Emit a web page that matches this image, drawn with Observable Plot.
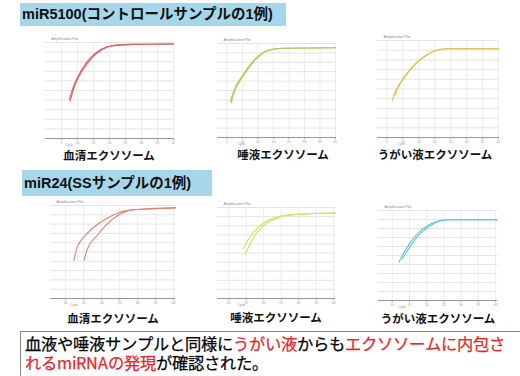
<!DOCTYPE html>
<html><head><meta charset="utf-8">
<script src="https://cdn.jsdelivr.net/npm/d3@7"></script>
<script src="https://cdn.jsdelivr.net/npm/@observablehq/plot@0.6"></script>
<style>
@font-face{font-family:"NoteJP";src:local("Noto Sans CJK JP Regular"),local("NotoSansCJKjp-Regular"),local("Noto Sans CJK JP");ascent-override:90%;descent-override:12%;line-gap-override:0%;}
html,body{margin:0;padding:0;background:#fff;}
#root{position:relative;width:520px;height:376px;overflow:hidden;background:#fff;font-family:"Liberation Sans","Noto Sans CJK JP",sans-serif;}
.ttl{position:absolute;background:#a6d6e9;font-weight:bold;font-size:14.5px;color:#111;line-height:23px;padding-left:2px;white-space:nowrap;}
.cap{position:absolute;font-family:"Noto Sans CJK JP",sans-serif;font-weight:bold;font-size:11.5px;line-height:12px;color:#111;transform:translate(-50%,-50%);white-space:nowrap;}
.chart{position:absolute;}
#note{position:absolute;left:20px;top:331px;width:520px;height:60px;border:1px solid #888;box-sizing:border-box;padding:2px 0 0 4px;font-family:"NoteJP","Noto Sans CJK JP",sans-serif;font-size:16.3px;line-height:19px;color:#000;white-space:nowrap;-webkit-text-stroke:0.25px currentColor;}
#note .ln{display:block;height:19px;}
#note .r{color:#e8262a;}
</style></head>
<body><div id="root"></div>
<script>
// ---- text ----
const sectionTitles = ["miR5100(コントロールサンプルの1例)", "miR24(SSサンプルの1例)"];
const captions = ["血清エクソソーム", "唾液エクソソーム", "うがい液エクソソーム", "血清エクソソーム", "唾液エクソソーム", "うがい液エクソソーム"];
const plotTitle = "Amplification Plot";
const axisName = "Cycle";
const noteLine1 = [["血液や唾液サンプルと同様に", false], ["うがい液", true], ["からも", false], ["エクソソームに内包さ", true]];
const noteLine2 = [["れるmiRNAの発現", true], ["が確認された。", false]];

// ---- axes ----
const ticksA = [5, 10, 15, 20, 25, 30, 35, 40];
const ticksB = [10, 15, 20, 25, 30, 35, 40];
const yDomain = [0, 10];

// ---- series: [cycle, ΔRn] ----
// miR5100 serum
const s1a = [[7.5,4.1],[8.6,5.3],[11.2,7.1],[14.3,8.5],[17.4,9.3],[21.4,9.7],[26.7,9.8],[40,9.85]];
const s1b = [[7.7,3.9],[8.8,5.2],[11.4,7.0],[14.5,8.4],[17.6,9.25],[21.6,9.68],[26.9,9.8],[40,9.85]];
// miR5100 saliva
const s2a = [[6.2,3.9],[7.3,5.0],[10.5,6.8],[13.7,8.2],[16.9,9.1],[20.1,9.4],[23.4,9.5],[40,9.55]];
const s2b = [[6.4,3.7],[7.5,4.9],[10.7,6.75],[13.9,8.15],[17.1,9.07],[20.3,9.4],[23.5,9.5],[40,9.55]];
// miR5100 gargle
const s3a = [[6.6,3.8],[7.7,4.8],[10.3,6.2],[13.4,7.4],[16.6,8.3],[19.7,8.9],[23.9,9.15],[40,9.15]];
const s3b = [[7.6,4.4],[8.4,5.1],[10.9,6.4],[13.9,7.6],[17.0,8.4],[20.1,8.95],[24.2,9.15],[40,9.15]];
// miR24 serum
const s4a = [[12.3,4.1],[13.2,5.5],[16.0,7.0],[19.7,8.2],[23.4,9.0],[26.2,9.4],[30.8,9.6],[40.5,9.75]];
const s4b = [[15.1,4.1],[16.0,5.3],[18.8,6.8],[21.5,8.0],[24.8,9.0],[28.0,9.5],[34.5,9.65],[40.5,9.75]];
// miR24 saliva
const s5a = [[14.1,5.5],[17.1,7.3],[20.0,8.3],[23.8,8.95],[28.6,9.25],[40.5,9.4]];
const s5b = [[14.8,4.9],[17.4,6.9],[20.3,8.1],[24.1,8.85],[28.8,9.2],[40.5,9.4]];
// miR24 gargle
const s6a = [[11.9,4.25],[14.3,5.9],[17.3,7.4],[20.2,8.3],[23.1,8.8],[26.0,8.97],[40.5,8.97]];
const s6b = [[12.9,4.6],[15.0,5.9],[17.9,7.35],[20.8,8.25],[23.6,8.8],[26.3,8.97],[40.5,8.97]];

const colors = ["#d8625c", "#a4d25a", "#dcc24a", "#e0806a", "#d6de5e", "#5cc8d2"];

// ---- layout ----
const frames = [
  {x:45, y:42, w:128, h:96, dom:[0,40], ticks:ticksA, series:[s1a,s1b], cx:109, cy:155},
  {x:217, y:43, w:118, h:94, dom:[2,40], ticks:ticksA, series:[s2a,s2b], cx:283, cy:154},
  {x:377, y:40, w:121, h:97, dom:[2,40], ticks:ticksA, series:[s3a,s3b], cx:435, cy:154},
  {x:50, y:205, w:125, h:93, dom:[5.8,40.5], ticks:ticksB, series:[s4a,s4b], cx:113, cy:318},
  {x:217, y:207, w:118, h:91, dom:[6.8,40.5], ticks:ticksB, series:[s5a,s5b], cx:276, cy:317},
  {x:378, y:210, w:119, h:90, dom:[6,40.6], ticks:ticksB, series:[s6a,s6b], cx:438, cy:318}
];

const root = document.getElementById("root");
function addTitle(text, left, top, w, h) {
  const d = document.createElement("div");
  d.className = "ttl"; d.textContent = text;
  Object.assign(d.style, {left:left+"px", top:top+"px", width:w+"px", height:h+"px", lineHeight:h+"px"});
  root.appendChild(d);
}
addTitle(sectionTitles[0], 20, 3, 264, 23);
addTitle(sectionTitles[1], 22, 170, 188, 26);

const ml = 2, mr = 2, mt = 9, mb = 10;
frames.forEach((f, i) => {
  const lines = f.series.map(s => Plot.line(s, {x: d => d[0], y: d => d[1], stroke: colors[i], strokeWidth: 1.1, curve: "monotone-x"}));
  const chart = Plot.plot({
    width: f.w + ml + mr, height: f.h + mt + mb,
    marginLeft: ml, marginRight: mr, marginTop: mt, marginBottom: mb,
    x: {domain: f.dom},
    y: {domain: yDomain},
    style: {background: "white", color: "#999", fontFamily: "Liberation Sans"},
    marks: [
      Plot.gridY(d3.range(0, 11), {stroke: "#e4e4e4", strokeOpacity: 1}),
      Plot.gridX(f.ticks, {stroke: "#ececec", strokeOpacity: 1}),
      Plot.ruleY([0], {stroke: "#999"}),
      Plot.axisX(f.ticks, {tickSize: 2, tickPadding: 0.5, fontSize: 3.5, stroke: "#999", fill: "#999", label: null}),
      Plot.axisY({ticks: [], label: null}),
      ...lines,
      Plot.text([plotTitle], {frameAnchor: "top-left", dx: 6, dy: -5, fontSize: 3.5, fill: "#888"}),
      Plot.text([axisName], {frameAnchor: "bottom-left", textAnchor: "start", dx: 20, dy: 7.8, fontSize: 3, fill: "#888"})
    ]
  });
  chart.classList.add("chart");
  chart.style.left = (f.x - ml) + "px";
  chart.style.top = (f.y - mt) + "px";
  root.appendChild(chart);
  const c = document.createElement("div");
  c.className = "cap"; c.textContent = captions[i];
  c.style.left = f.cx + "px"; c.style.top = f.cy + "px";
  root.appendChild(c);
});

const note = document.createElement("div");
note.id = "note";
function addLine(parts) {
  const ln = document.createElement("div");
  ln.className = "ln";
  parts.forEach(([t, red]) => {
    const s = document.createElement("span");
    if (red) s.className = "r";
    s.textContent = t;
    ln.appendChild(s);
  });
  note.appendChild(ln);
}
addLine(noteLine1);
addLine(noteLine2);
root.appendChild(note);
</script>
</body></html>
